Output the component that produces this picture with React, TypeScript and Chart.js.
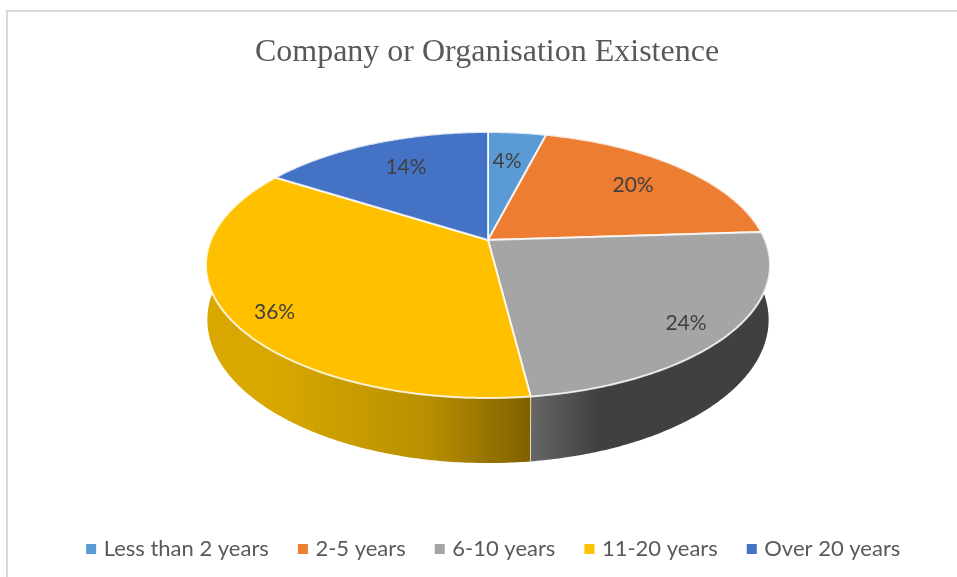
import React, { useEffect, useRef } from "react";
import { Chart, registerables } from "chart.js";

Chart.register(...registerables);

const chartTitle = "Company or Organisation Existence";
const categories = ["Less than 2 years", "2-5 years", "6-10 years", "11-20 years", "Over 20 years"];
const sliceValues = [4, 20, 24, 36, 16];
// Printed labels, as they read in the picture.
const sliceLabels = ["4%", "20%", "24%", "36%", "14%"];
const sliceColors = ["#5b9bd5", "#ed7d31", "#a5a5a5", "#ffc000", "#4472c4"];
const sideStart = ["#4a80b0", "#b85f20", "#666666", "#d8a800", "#335a9c"];
const sideEnd = ["#3a6a94", "#9a4f1a", "#404040", "#7f6000", "#2a4a80"];
const sideMiddle = ["#3a6a94", "#9a4f1a", "#404040", "#b88f00", "#2a4a80"];
const labelRadius = [0.7, 0.736, 0.86, 0.864, 0.718];
const labelAngleShift = [-0.8, 0.3, 2.6, -3.9, 1.3];

// Perspective of the pie disc
const CX = 488;
const CY = 240;
const KX = 277;
const KY = 83.2;
const PERSP = -0.188;
const DEPTH = 52.8;
const BOTTOM_SCALE = 0.995;

function project(r: number, angle: number) {
  const theta = angle + Math.PI / 2;
  const u = r * Math.sin(theta);
  const v = -r * Math.cos(theta);
  const d = 1 + PERSP * v;
  return { x: CX + (KX * u) / d, y: (CY + KY * v) / d, d };
}

function projectLow(angle: number) {
  const p = project(1, angle);
  return { x: CX + BOTTOM_SCALE * (p.x - CX), y: p.y + DEPTH / p.d };
}

function rim(start: number, end: number) {
  const n = Math.max(2, Math.ceil(Math.abs(end - start) / 0.01));
  const a: number[] = [];
  for (let i = 0; i <= n; i++) a.push(start + ((end - start) * i) / n);
  return a;
}

const pie3d = {
  id: "pie3d",
  afterLayout(chart: any) {
    // the legend row sits a little right of the title in the reference
    chart.legend.left += 8;
    chart.legend.right += 8;
  },
  beforeDraw(chart: any) {
    const { ctx, width, height } = chart;
    ctx.save();
    ctx.fillStyle = "#ffffff";
    ctx.fillRect(0, 0, width, height);
    ctx.strokeStyle = "#d9d9d9";
    ctx.lineWidth = 2;
    ctx.beginPath();
    ctx.moveTo(7, height);
    ctx.lineTo(7, 11);
    ctx.lineTo(width, 11);
    ctx.stroke();
    ctx.restore();
  },
  beforeDatasetDraw(chart: any, args: any) {
    const ctx = chart.ctx;
    const arcs = args.meta.data as any[];
    ctx.save();
    ctx.lineJoin = "round";
    // side walls
    arcs.forEach((el, i) => {
      const { startAngle, endAngle } = el.getProps(["startAngle", "endAngle"], true);
      const angles = rim(startAngle, endAngle);
      const a = project(1, startAngle);
      const b = project(1, endAngle);
      const x0 = Math.min(a.x, b.x);
      const x1 = Math.max(a.x, b.x);
      const g = ctx.createLinearGradient(x0, 0, x1, 0);
      if (i === 3) {
        g.addColorStop(0, sideStart[i]);
        g.addColorStop(0.6, sideMiddle[i]);
        g.addColorStop(1, sideEnd[i]);
      } else {
        g.addColorStop(0, sideStart[i]);
        g.addColorStop(0.3, sideEnd[i]);
        g.addColorStop(1, sideEnd[i]);
      }
      ctx.beginPath();
      angles.forEach((t, k) => {
        const p = project(1, t);
        if (k === 0) ctx.moveTo(p.x, p.y);
        else ctx.lineTo(p.x, p.y);
      });
      [...angles].reverse().forEach((t) => {
        const p = projectLow(t);
        ctx.lineTo(p.x, p.y);
      });
      ctx.closePath();
      ctx.fillStyle = g;
      ctx.fill();
    });
    // pale seams between walls
    arcs.forEach((el) => {
      const { startAngle } = el.getProps(["startAngle"], true);
      const top = project(1, startAngle);
      const low = projectLow(startAngle);
      ctx.beginPath();
      ctx.moveTo(top.x, top.y);
      ctx.lineTo(low.x, low.y);
      ctx.strokeStyle = "rgba(255,245,210,0.75)";
      ctx.lineWidth = 1;
      ctx.stroke();
    });
    // top faces
    arcs.forEach((el, i) => {
      const { startAngle, endAngle } = el.getProps(["startAngle", "endAngle"], true);
      ctx.beginPath();
      ctx.moveTo(CX, CY);
      rim(startAngle, endAngle).forEach((t) => {
        const p = project(1, t);
        ctx.lineTo(p.x, p.y);
      });
      ctx.closePath();
      ctx.fillStyle = sliceColors[i];
      ctx.fill();
      ctx.strokeStyle = "rgba(255,255,255,0.8)";
      ctx.lineWidth = 2;
      ctx.stroke();
    });
    // data labels
    ctx.fillStyle = "#404040";
    ctx.font = "21px Lato";
    ctx.textAlign = "center";
    ctx.textBaseline = "middle";
    arcs.forEach((el, i) => {
      const { startAngle, endAngle } = el.getProps(["startAngle", "endAngle"], true);
      const mid = (startAngle + endAngle) / 2 + (labelAngleShift[i] * Math.PI) / 180;
      const p = project(labelRadius[i], mid);
      ctx.fillText(sliceLabels[i], p.x, p.y);
    });
    ctx.restore();
    return false;
  },
};

export default function App() {
  const ref = useRef<HTMLCanvasElement>(null);
  useEffect(() => {
    const chart = new Chart(ref.current as HTMLCanvasElement, {
      type: "pie",
      data: {
        labels: categories,
        datasets: [{ data: sliceValues, backgroundColor: sliceColors, borderWidth: 0 }],
      },
      plugins: [pie3d],
      options: {
        responsive: false,
        animation: false,
        layout: { padding: { left: 17, right: 0, top: 33, bottom: 7 } },
        plugins: {
          tooltip: { enabled: false },
          title: {
            display: true,
            text: chartTitle,
            color: "#595959",
            font: { family: "'Liberation Serif'", size: 32, weight: "normal" },
            padding: { top: 0, bottom: 10 },
          },
          legend: {
            position: "bottom",
            labels: {
              color: "#595959",
              font: { family: "Lato", size: 22 },
              usePointStyle: true,
              pointStyle: "rect",
              boxWidth: 3,
              boxHeight: 10,
              padding: 32.5,
            },
          },
        },
      } as any,
    });
    return () => chart.destroy();
  }, []);
  return (
    <div style={{ position: "absolute", left: 0, top: 0, width: 957, height: 577, background: "#fff" }}>
      <canvas ref={ref} width={957} height={577} style={{ display: "block" }} />
    </div>
  );
}
